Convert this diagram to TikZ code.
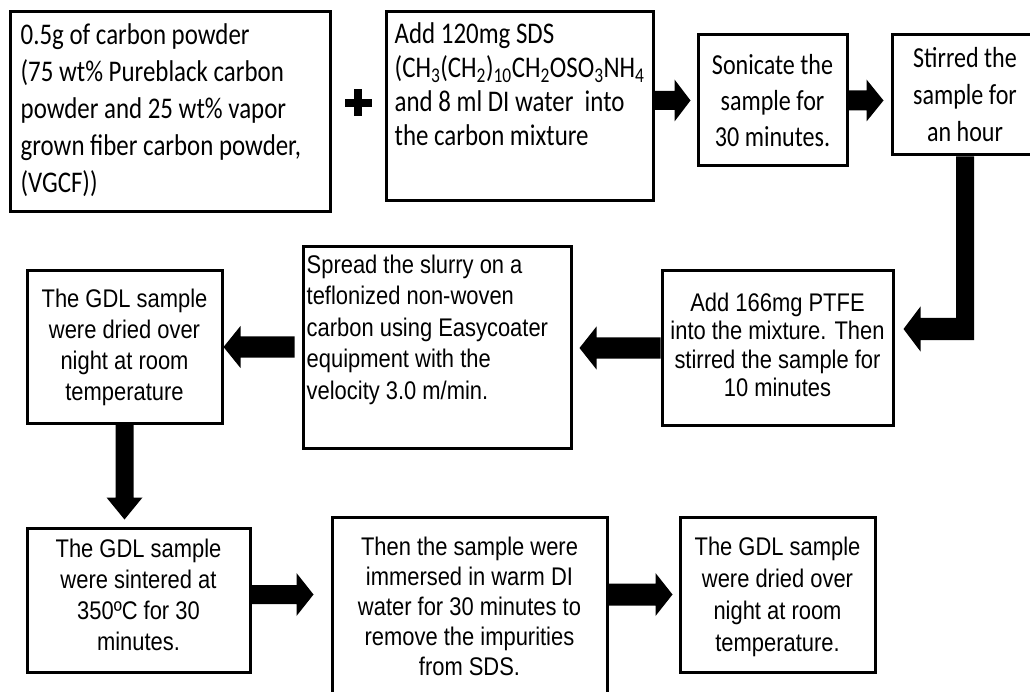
\documentclass[tikz,border=0pt]{standalone}
\usepackage{fontspec}
\usetikzlibrary{calc}
\newfontfamily\calfont{Carlito}[FakeStretch=0.83]
\newfontfamily\arifont{Liberation Sans}[FakeStretch=0.86]
% horizontal block arrow: tail, tip, shaft half-width, head half-width, head length (negative for leftward)
\newcommand\harrow[5]{\fill let \p1=(#1),\p2=(#2) in (\x1,{\y2+#3pt}) -- ({\x2-(#5pt)},{\y2+#3pt}) -- ({\x2-(#5pt)},{\y2+#4pt}) -- (\p2) -- ({\x2-(#5pt)},{\y2-#4pt}) -- ({\x2-(#5pt)},{\y2-#3pt}) -- (\x1,{\y2-#3pt}) -- cycle;}
% vertical (downward) block arrow
\newcommand\varrow[5]{\fill let \p1=(#1),\p2=(#2) in ({\x2-#3pt},\y1) -- ({\x2-#3pt},{\y2+(#5pt)}) -- ({\x2-#4pt},{\y2+(#5pt)}) -- (\p2) -- ({\x2+#4pt},{\y2+(#5pt)}) -- ({\x2+#3pt},{\y2+(#5pt)}) -- ({\x2+#3pt},\y1) -- cycle;}
\begin{document}
\begin{tikzpicture}[x=1pt,y=-1pt,
  box/.style={draw, line width=3pt, inner sep=0pt, align=center},
  cal/.style={font=\calfont\fontsize{29}{#1}\selectfont},
  calb/.style={font=\calfont\fontsize{30}{#1}\selectfont},
  ari/.style={font=\arifont\fontsize{25.5}{#1}\selectfont},
  txt/.style={inner sep=0pt, anchor=north west, align=left},
  ctxt/.style={inner sep=0pt, align=center}]
\useasboundingbox (0,0) rectangle (1030,692);
\clip (0,0) rectangle (1030,692);

% boxes
\node[box, minimum width=320pt, minimum height=200pt] (b1) at (170,112) {};
\node[box, minimum width=267pt, minimum height=189pt] (b2) at (519.5,106.5) {};
\node[box, cal=36, minimum width=149pt, minimum height=131pt] (b3) at (772.5,100.5) {Sonicate the\\sample for\\30 minutes.};
\node[box, cal=37, minimum width=146pt, minimum height=120pt] (b4) at (965,95) {Stirred the\\sample for\\an hour};
\node[box, minimum width=231pt, minimum height=154pt] (b5) at (777.5,348) {};
\node[box, minimum width=268pt, minimum height=201pt] (b6) at (437,347.5) {};
\node[box, minimum width=195pt, minimum height=152pt] (b7) at (124.5,347) {};
\node[box, minimum width=223pt, minimum height=144pt] (b8) at (138.5,600) {};
\node[box, minimum width=275pt, minimum height=193pt] (b9) at (469.5,613.5) {};
\node[box, minimum width=195pt, minimum height=155pt] (b10) at (777.5,594.5) {};

% texts placed inside boxes
\node[txt, calb=37] (t1) at ($(b1.north west)+(12,13)$) {0.5g of carbon powder\\(75 wt\% Pureblack carbon\\powder and 25 wt\% vapor\\grown fiber carbon powder,\\(VGCF))};
\node[txt, calb=34] (t2) at ($(b2.north west)+(10,12)$) {Add 120mg SDS\\(CH\textsubscript{3}(CH\textsubscript{2})\textsubscript{10}CH\textsubscript{2}OSO\textsubscript{3}NH\textsubscript{4}\\and 8 ml DI water\ \ into\\the carbon mixture};
\node[ctxt, ari=28.5] (t5) at ($(b5.center)+(0,-3)$) {Add 166mg PTFE\\into the mixture. Then\\stirred the sample for\\10 minutes};
\node[txt, ari=31.5] (t6) at ($(b6.north west)+(5,9)$) {Spread the slurry on a\\teflonized non-woven\\carbon using Easycoater\\equipment with the\\velocity 3.0 m/min.};
\node[ctxt, ari=31] (t7) at (b7.center) {The GDL sample\\were dried over\\night at room\\temperature};
\node[ctxt, ari=31] (t8) at ($(b8.center)+(0,-5)$) {The GDL sample\\were sintered at\\350ºC for 30\\minutes.};
\node[ctxt, ari=30] (t9) at ($(b9.north)+(0,91)$) {Then the sample were\\immersed in warm DI\\water for 30 minutes to\\remove the impurities\\from SDS.};
\node[ctxt, ari=32] (t10) at ($(b10.center)+(0,2)$) {The GDL sample\\were dried over\\night at room\\temperature.};

% plus sign
\coordinate (plus) at (358,103);
\fill ($(plus)+(-13.5,-4)$) rectangle ($(plus)+(13.5,4)$);
\fill ($(plus)+(-4,-13.5)$) rectangle ($(plus)+(4,13.5)$);

% block arrows
\coordinate (t23) at ($(b3.west)+(-6,0)$);
\harrow{b2.east}{t23}{9.5}{21}{16}
\coordinate (t34) at ($(b4.west |- b3.east)+(-7,0)$);
\harrow{b3.east}{t34}{10}{21}{17}
\coordinate (t56) at ($(b6.east |- b5.west)+(7,0)$);
\harrow{b5.west}{t56}{10.5}{21.5}{-17}
\coordinate (s67) at ($(b6.west)+(-7,0)$);
\harrow{s67}{b7.east}{10.5}{21}{-17}
\coordinate (t78) at ($(b7.south |- b8.north)+(0,-7)$);
\varrow{b7.south}{t78}{9}{18}{22}
\coordinate (t89) at ($(b9.west |- b10.west)+(-17,0)$);
\harrow{b8.east}{t89}{9.5}{21.5}{17}
\coordinate (t910) at ($(b10.west)+(-6,0)$);
\harrow{b9.east}{t910}{11}{21.5}{17}

% bent arrow from b4 down and left to b5
\coordinate (bt) at ($(b5.east)+(9,-19)$);
\fill let \p1=(b4.south), \p2=(bt) in ({\x1-9pt},\y1) -- ({\x1+9pt},\y1) -- ({\x1+9pt},{\y2-11pt}) -- ({\x2+17pt},{\y2-11pt}) -- ({\x2+17pt},{\y2-22.5pt}) -- (\p2) -- ({\x2+17pt},{\y2+22.5pt}) -- ({\x2+17pt},{\y2+11pt}) -- ({\x1-9pt},{\y2+11pt}) -- cycle;
\end{tikzpicture}
\end{document}
